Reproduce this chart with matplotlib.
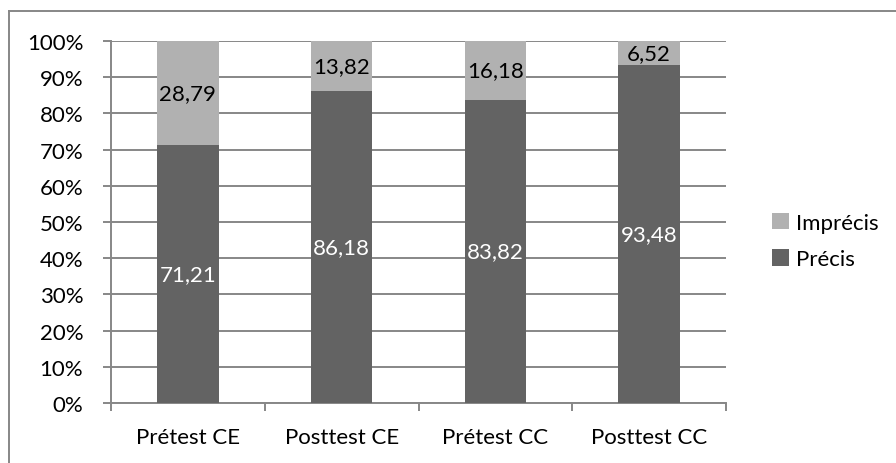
import matplotlib
matplotlib.use("Agg")
import matplotlib.pyplot as plt
from matplotlib.lines import Line2D
from matplotlib.patches import Patch
import numpy as np

categories = ["Prétest CE", "Posttest CE", "Prétest CC", "Posttest CC"]
precis = [71.21, 86.18, 83.82, 93.48]
imprecis = [28.79, 13.82, 16.18, 6.52]
series_names = ["Imprécis", "Précis"]
y_ticks = [0, 10, 20, 30, 40, 50, 60, 70, 80, 90, 100]

DARK = "#636363"
LIGHT = "#b1b1b1"
GRID = "#878787"
FS = 16

plt.rcParams["font.family"] = ["Lato", "DejaVu Sans"]

fig = plt.figure(figsize=(8.96, 4.64), dpi=100)
ax = fig.add_axes([111 / 896, 1 - 404 / 464, (726 - 111) / 896, (404 - 42) / 464])

x = np.arange(len(categories))
ax.bar(x, precis, width=0.4, color=DARK, zorder=3)
ax.bar(x, imprecis, width=0.4, bottom=precis, color=LIGHT, zorder=3)

for xi, p, q in zip(x, precis, imprecis):
    ax.text(xi, p / 2, f"{p:.2f}".replace(".", ","), ha="center", va="center",
            color="white", fontsize=FS, zorder=4)
    ax.text(xi, p + q / 2, f"{q:.2f}".replace(".", ","), ha="center", va="center",
            color="black", fontsize=FS, zorder=4)

ax.set_xlim(-0.5, len(categories) - 0.5)
ax.set_ylim(0, 100)
ax.set_yticks(y_ticks)
ax.set_yticklabels([f"{v}%" for v in y_ticks], fontsize=FS)
ax.yaxis.grid(True, color=GRID, linewidth=1.4, zorder=0)

# category labels centred, ticks at boundaries
ax.set_xticks(x)
ax.set_xticklabels(categories, fontsize=FS)
ax.tick_params(axis="x", length=0, pad=17)
ax.set_xticks(np.arange(len(categories) + 1) - 0.5, minor=True)
ax.tick_params(axis="x", which="minor", length=6, width=1.4, color=GRID)
ax.tick_params(axis="y", length=6, width=1.4, color=GRID, pad=14)

for side in ["top", "right"]:
    ax.spines[side].set_visible(False)
for side in ["left", "bottom"]:
    ax.spines[side].set_color(GRID)
    ax.spines[side].set_linewidth(1.4)

handles = [Patch(facecolor=LIGHT, edgecolor="none"), Patch(facecolor=DARK, edgecolor="none")]
fig.legend(handles, series_names, loc="center left", bbox_to_anchor=(752 / 896, 1 - 242 / 464),
           frameon=False, fontsize=FS, handlelength=0.75, handleheight=0.75,
           handletextpad=0.35, labelspacing=0.75)

# chart frame
fig.add_artist(Line2D([9 / 896, 9 / 896], [0, 1 - 12 / 464], color=GRID, linewidth=1.4))
fig.add_artist(Line2D([9 / 896, 1], [1 - 12 / 464, 1 - 12 / 464], color=GRID, linewidth=1.4))

fig.savefig("out.png", dpi=100)
